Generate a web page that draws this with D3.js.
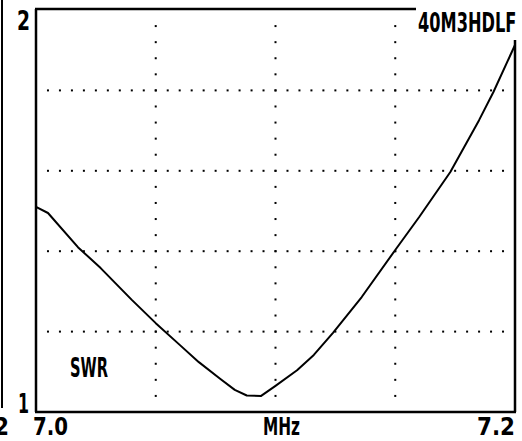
<!DOCTYPE html>
<html>
<head>
<meta charset="utf-8">
<script src="https://cdn.jsdelivr.net/npm/d3@7"></script>
<style>
  body { margin: 0; background: #fff; }
  text { font-family: "DejaVu Sans Condensed", "Liberation Sans Narrow", sans-serif; font-weight: bold; fill: #000; }
</style>
</head>
<body>
<script>
// SWR sweep data
var freqs = [7.000, 7.005, 7.0175, 7.027, 7.040, 7.050, 7.060, 7.068, 7.077, 7.083, 7.088,
             7.094, 7.100, 7.109, 7.116, 7.124, 7.136, 7.150, 7.160, 7.173, 7.185, 7.191, 7.200];
var swr = [1.510, 1.495, 1.410, 1.358, 1.279, 1.221, 1.167, 1.124, 1.082, 1.055, 1.041,
           1.040, 1.065, 1.104, 1.142, 1.197, 1.286, 1.403, 1.485, 1.597, 1.726, 1.796, 1.913];

var xGrid = [7.05, 7.10, 7.15];
var yGrid = [1.2, 1.4, 1.6, 1.8];
var xTickLabels = ["7.0", "7.2"];
var yTickLabels = ["2", "1"];

var svgWidth = 522;
var svgHeight = 441;

var margin = { top: 10, right: 7, bottom: 29, left: 36 };
var width = svgWidth - margin.left - margin.right;
var height = svgHeight - margin.top - margin.bottom;

var svg = d3.select("body")
  .append("svg")
  .attr("width", svgWidth)
  .attr("height", svgHeight);

var chartGroup = svg.append("g")
  .attr("transform", `translate(${margin.left}, ${margin.top})`);

var xScale = d3.scaleLinear().domain([7.0, 7.2]).range([0, width]);
var yScale = d3.scaleLinear().domain([1, 2]).range([height, 0]);

// dotted grid: dots every 1/40 of x span, 1/25 of y span
var xDots = d3.range(1, 40).map(k => 7.0 + k * 0.005);
var yDots = d3.range(1, 25).map(k => 1 + k * 0.04);

yGrid.forEach(function (v) {
  chartGroup.selectAll(null)
    .data(xDots)
    .enter().append("rect")
    .attr("x", d => xScale(d) - 1)
    .attr("y", yScale(v) - 1)
    .attr("width", 2)
    .attr("height", 2)
    .attr("fill", "#000");
});

xGrid.forEach(function (v) {
  chartGroup.selectAll(null)
    .data(yDots)
    .enter().append("rect")
    .attr("x", xScale(v) - 1)
    .attr("y", d => yScale(d) - 1)
    .attr("width", 2)
    .attr("height", 2)
    .attr("fill", "#000");
});

// frame
var frame = chartGroup.append("g")
  .attr("stroke", "#000")
  .attr("stroke-width", 2.5);
frame.append("line").attr("x1", 0).attr("y1", -1).attr("x2", 0).attr("y2", height);
frame.append("line").attr("x1", -1).attr("y1", height).attr("x2", width + 1).attr("y2", height);
frame.append("line").attr("x1", -1).attr("y1", -1).attr("x2", 380).attr("y2", -1);
frame.append("line").attr("x1", width).attr("y1", 30).attr("x2", width).attr("y2", height);

// curve
var line = d3.line()
  .x((d, i) => xScale(freqs[i]))
  .y(d => yScale(d));

chartGroup.append("path")
  .datum(swr)
  .attr("d", line)
  .attr("fill", "none")
  .attr("stroke", "#000")
  .attr("stroke-width", 2)
  .attr("stroke-linejoin", "round");

// labels
chartGroup.append("text")
  .attr("x", -19).attr("y", yScale(2) + 20)
  .attr("font-size", 26)
  .attr("textLength", 13).attr("lengthAdjust", "spacingAndGlyphs")
  .text(yTickLabels[0]);

chartGroup.append("text")
  .attr("x", -18).attr("y", yScale(1) + 1)
  .attr("font-size", 26)
  .attr("textLength", 11).attr("lengthAdjust", "spacingAndGlyphs")
  .text(yTickLabels[1]);

chartGroup.append("text")
  .attr("x", xScale(7.0) - 3).attr("y", height + 23)
  .attr("font-size", 24)
  .attr("textLength", 35).attr("lengthAdjust", "spacingAndGlyphs")
  .text(xTickLabels[0]);

chartGroup.append("text")
  .attr("x", xScale(7.2) - 38).attr("y", height + 23)
  .attr("font-size", 24)
  .attr("textLength", 38).attr("lengthAdjust", "spacingAndGlyphs")
  .text(xTickLabels[1]);

chartGroup.append("text")
  .attr("x", 227).attr("y", height + 23)
  .attr("font-size", 24)
  .attr("textLength", 37).attr("lengthAdjust", "spacingAndGlyphs")
  .text("MHz");

chartGroup.append("text")
  .attr("x", 34).attr("y", 367)
  .attr("font-size", 27)
  .attr("textLength", 38).attr("lengthAdjust", "spacingAndGlyphs")
  .text("SWR");

// title: condensed by stretching a smaller font vertically
chartGroup.append("g")
  .attr("transform", "translate(382, 22) scale(1, 1.45)")
  .append("text")
  .attr("x", 0).attr("y", 0)
  .attr("font-size", 18)
  .text("40M3HDLF");

// remnant of the neighbouring chart on the left edge
svg.append("line")
  .attr("x1", 2).attr("y1", 0).attr("x2", 2).attr("y2", 408)
  .attr("stroke", "#000").attr("stroke-width", 2);
svg.append("text")
  .attr("x", -6).attr("y", 435)
  .attr("font-size", 24)
  .text("2");
</script>
</body>
</html>
